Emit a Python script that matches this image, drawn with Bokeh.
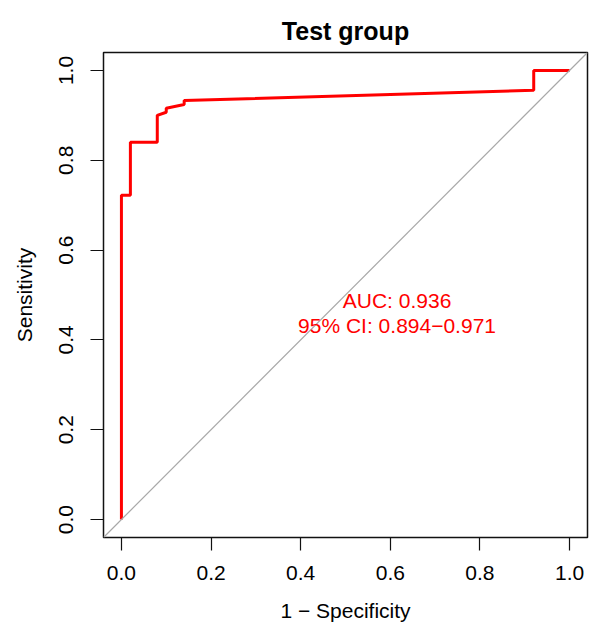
from bokeh.plotting import figure
from bokeh.models import FixedTicker, Slope, Label, Range1d
from bokeh.embed import file_html
from bokeh.resources import INLINE

# ROC curve points (1 - specificity, sensitivity)
fpr = [0.0, 0.0, 0.02, 0.02, 0.08, 0.08, 0.10, 0.10, 0.14, 0.14, 0.92, 0.92, 1.0]
tpr = [0.0, 0.722, 0.722, 0.84, 0.84, 0.90, 0.907, 0.916, 0.924, 0.933, 0.956, 1.0, 1.0]

tick_values = [0.0, 0.2, 0.4, 0.6, 0.8, 1.0]
tick_labels = ["0.0", "0.2", "0.4", "0.6", "0.8", "1.0"]

auc = 0.936
ci_low = 0.894
ci_high = 0.971

title_text = "Test group"
xlabel = "1 \u2212 Specificity"
ylabel = "Sensitivity"

FONT = "Liberation Sans"

p = figure(width=596, height=626, output_backend="svg", toolbar_location=None,
           x_range=Range1d(-0.04, 1.04), y_range=Range1d(-0.04, 1.04),
           min_border_left=103, min_border_right=9, min_border_top=52, min_border_bottom=89)
p.background_fill_color = "white"
p.border_fill_color = "white"
p.grid.visible = False
p.outline_line_color = "#111111"
p.outline_line_width = 1.5

p.title.text = title_text
p.title.align = "center"
p.title.text_font = FONT
p.title.text_font_size = "25px"
p.title.text_font_style = "bold"
p.title.text_color = "black"
p.title.standoff = 16

for ax in (p.xaxis[0], p.yaxis[0]):
    ax.ticker = FixedTicker(ticks=tick_values)
    ax.major_label_overrides = {v: l for v, l in zip(tick_values, tick_labels)}
    ax.axis_line_color = None
    ax.major_tick_in = 0
    ax.major_tick_out = 13
    ax.major_tick_line_color = "#111111"
    ax.major_tick_line_width = 1.2
    ax.minor_tick_line_color = None
    ax.major_label_text_font = FONT
    ax.major_label_text_font_size = "21px"
    ax.major_label_text_color = "black"
    ax.axis_label_text_font = FONT
    ax.axis_label_text_font_size = "21px"
    ax.axis_label_text_font_style = "normal"
    ax.axis_label_text_color = "black"

p.xaxis[0].axis_label = xlabel
p.yaxis[0].axis_label = ylabel
p.xaxis[0].major_label_standoff = 15
p.xaxis[0].axis_label_standoff = 16
p.yaxis[0].major_label_orientation = "vertical"
p.yaxis[0].major_label_standoff = 17
p.yaxis[0].axis_label_standoff = 21

p.add_layout(Slope(gradient=1, y_intercept=0, line_color="#A8A8A8", line_width=1.2))

p.line(fpr, tpr, line_color="#FF0000", line_width=3)

p.add_layout(Label(x=0.615, y=0.487, text=f"AUC: {auc:.3f}", text_align="center",
                   text_baseline="alphabetic", text_font=FONT, text_font_size="21px",
                   text_color="#FF0000"))
p.add_layout(Label(x=0.615, y=0.431, text=f"95% CI: {ci_low:.3f}\u2212{ci_high:.3f}",
                   text_align="center", text_baseline="alphabetic", text_font=FONT,
                   text_font_size="21px", text_color="#FF0000"))

open("out.html", "w").write(file_html(p, INLINE))
